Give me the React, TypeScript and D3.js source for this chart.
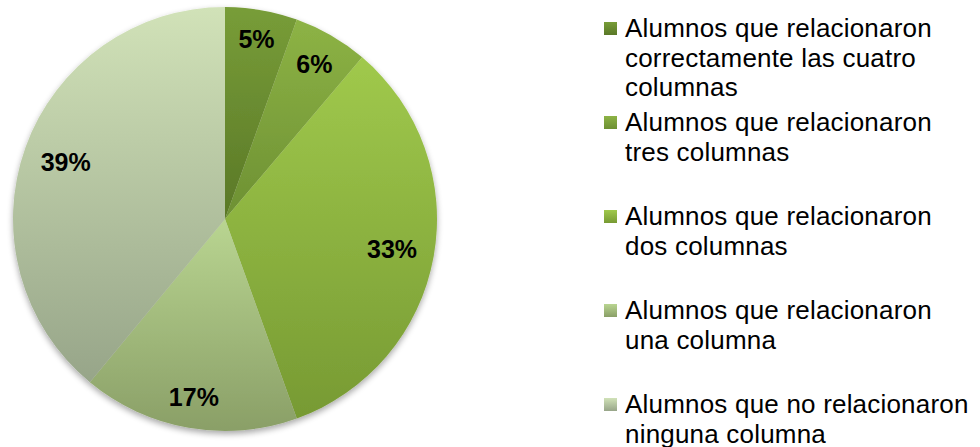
import React from "react";
import * as d3 from "d3";

const categories = [
  "Alumnos que relacionaron correctamente las cuatro columnas",
  "Alumnos que relacionaron tres columnas",
  "Alumnos que relacionaron dos columnas",
  "Alumnos que relacionaron una columna",
  "Alumnos que no relacionaron ninguna columna",
];
const legendLines = [
  ["Alumnos que relacionaron", "correctamente las cuatro", "columnas"],
  ["Alumnos que relacionaron", "tres columnas"],
  ["Alumnos que relacionaron", "dos columnas"],
  ["Alumnos que relacionaron", "una columna"],
  ["Alumnos que no relacionaron", "ninguna columna"],
];
const values = [5.5, 5.7, 33.3, 16.5, 39.0];
const labels = ["5%", "6%", "33%", "17%", "39%"];
const topColors = ["#789d38", "#8db345", "#a0c94c", "#b9d591", "#d1e2b8"];
const bottomColors = ["#5a7827", "#6d9033", "#779a33", "#8a9f67", "#97a589"];

export default function App() {
  const cx = 225;
  const cy = 219;
  const r = 212;
  const labelFont = 25;
  const pie = d3.pie<number>().sort(null).value((d) => d);
  const arcs = pie(values);
  const arc = d3.arc<d3.PieArcDatum<number>>().innerRadius(0).outerRadius(r);

  // best-fit label placement: the far corner of the label box sits at 0.925 r
  const placeLabel = (a: d3.PieArcDatum<number>, text: string) => {
    const theta = (a.startAngle + a.endAngle) / 2;
    const ux = Math.sin(theta);
    const uy = -Math.cos(theta);
    const digits = text.replace("%", "").length;
    const w = labelFont * (0.556 * digits + 0.889);
    const h = 19;
    const c = [Math.sign(ux) * (w / 2), Math.sign(uy) * (h / 2)];
    const R = r * 0.925;
    const uc = ux * c[0] + uy * c[1];
    const cc = c[0] * c[0] + c[1] * c[1];
    const d = -uc + Math.sqrt(uc * uc - cc + R * R);
    return [d * ux, d * uy];
  };

  const legendX = 604;
  const legendBase = [37, 131, 225, 319, 413];
  const lineH = 29.5;

  return (
    <svg
      width={980}
      height={447}
      style={{ position: "absolute", left: 0, top: 0 }}
      fontFamily="'Liberation Sans', Arial, sans-serif"
    >
      <defs>
        {values.map((_, i) => (
          <linearGradient key={i} id={`g${i}`} x1="0" y1="0" x2="0" y2="1">
            <stop offset="0" stopColor={topColors[i]} />
            <stop offset="1" stopColor={bottomColors[i]} />
          </linearGradient>
        ))}
        <filter id="shadow" x="-10%" y="-10%" width="120%" height="125%">
          <feGaussianBlur in="SourceAlpha" stdDeviation="3" />
          <feOffset dx="0" dy="3" result="b" />
          <feComponentTransfer>
            <feFuncA type="linear" slope="0.35" />
          </feComponentTransfer>
          <feMerge>
            <feMergeNode />
            <feMergeNode in="SourceGraphic" />
          </feMerge>
        </filter>
      </defs>
      <g transform={`translate(${cx},${cy})`}>
        <g filter="url(#shadow)">
          {arcs.map((a, i) => (
            <path key={i} d={arc(a) || ""} fill={`url(#g${i})`} />
          ))}
        </g>
        {arcs.map((a, i) => {
          const [x, y] = placeLabel(a, labels[i]);
          return (
            <text
              key={i}
              x={x}
              y={y}
              textAnchor="middle"
              dominantBaseline="central"
              fontWeight="bold"
              fontSize={labelFont}
              fill="#000"
            >
              {labels[i]}
            </text>
          );
        })}
      </g>
      {categories.map((c, i) => (
        <g key={c}>
          <rect
            x={legendX}
            y={legendBase[i] - 15}
            width={13}
            height={13}
            fill={`url(#g${i})`}
          />
          <text fontSize={26} fill="#000" letterSpacing={0.2}>
            {legendLines[i].map((ln, j) => (
              <tspan key={j} x={legendX + 21} y={legendBase[i] + j * lineH}>
                {ln}
              </tspan>
            ))}
          </text>
        </g>
      ))}
    </svg>
  );
}
